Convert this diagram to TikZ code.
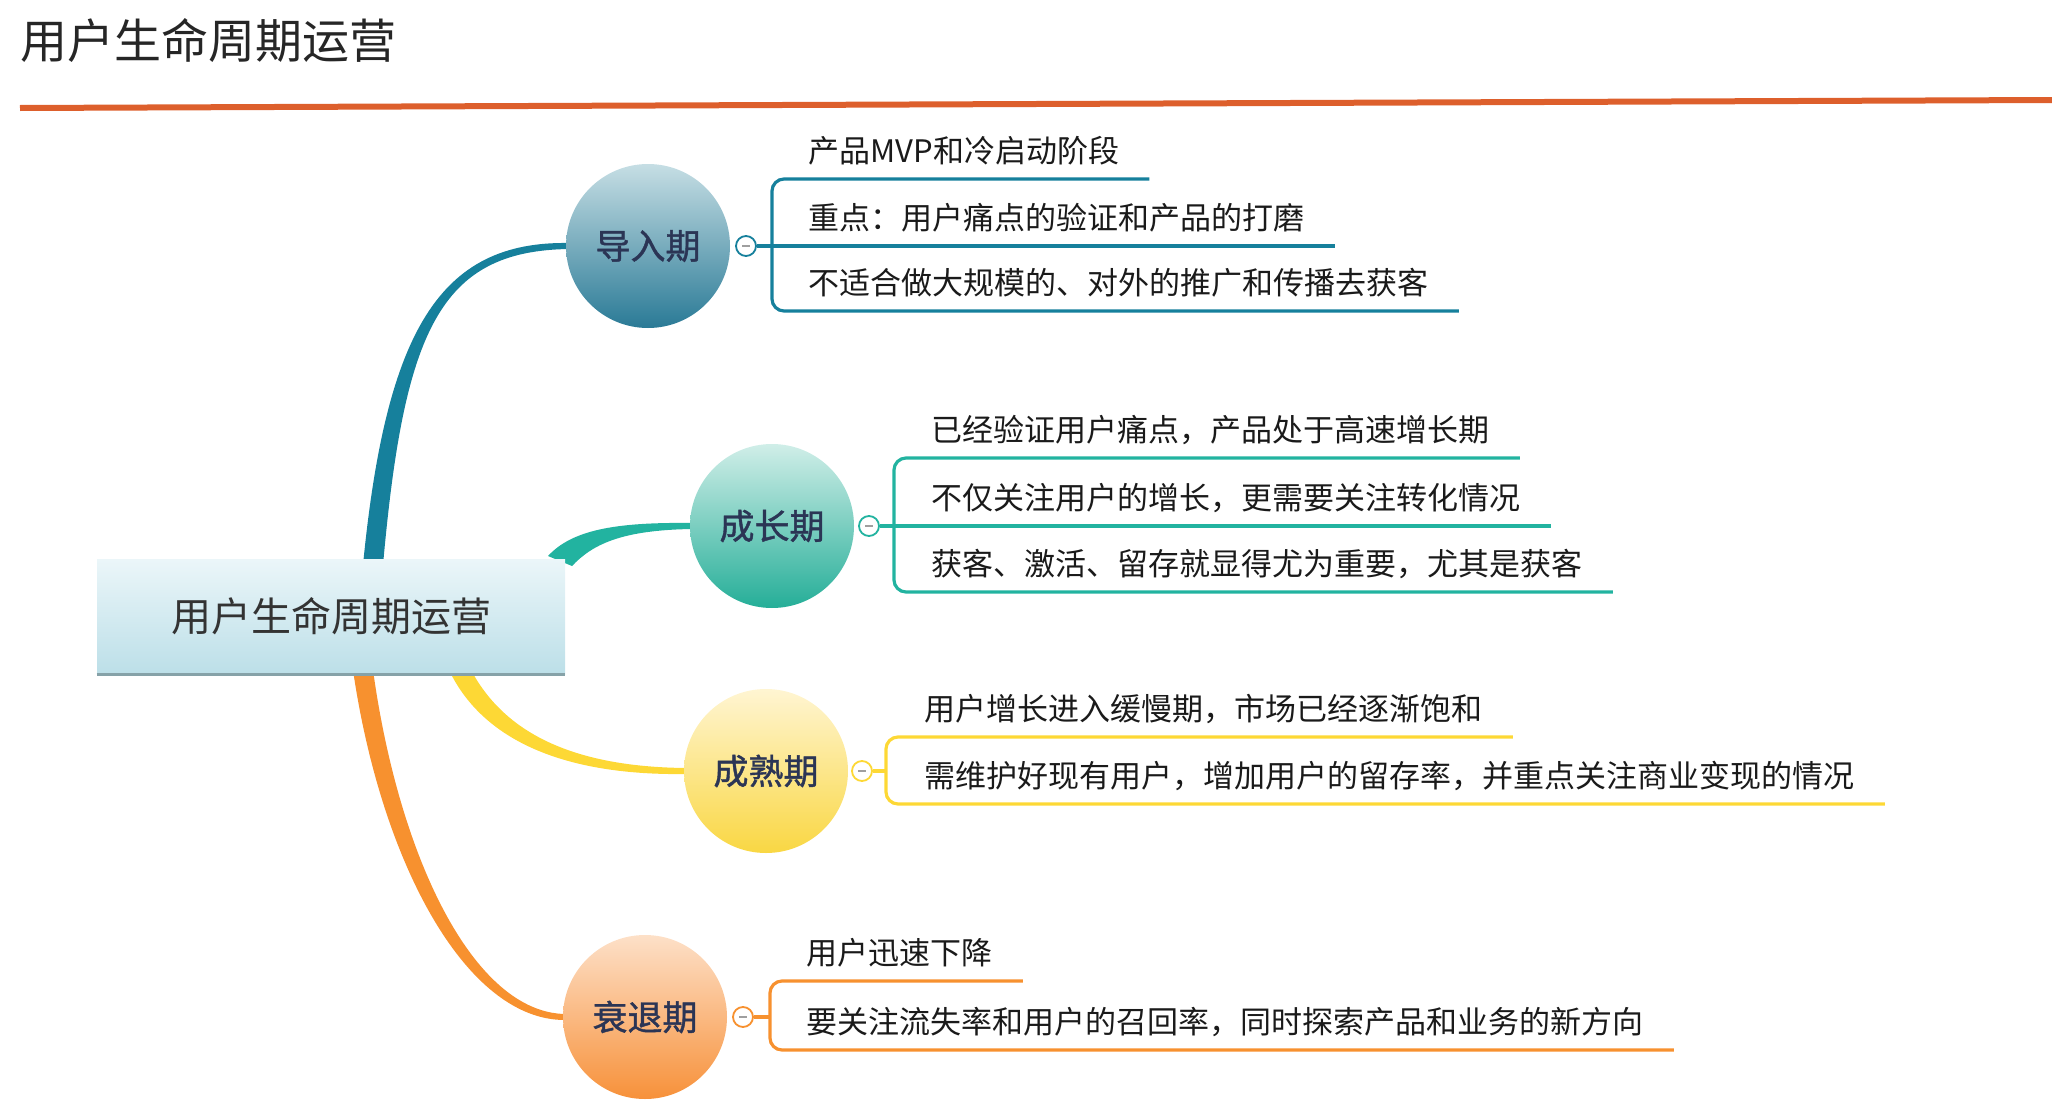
\documentclass[tikz,border=0pt]{standalone}
\usepackage{fontspec}
\setmainfont{Noto Sans CJK SC}
\newfontfamily\stagefont[FakeBold=1.2]{Noto Sans CJK SC}
\usetikzlibrary{calc}
\definecolor{titleline}{HTML}{DD5F2C}
\definecolor{txt}{HTML}{1A1A1A}
\definecolor{navy}{HTML}{2B3555}
\definecolor{c1line}{HTML}{16809C}
\definecolor{c1top}{HTML}{C6DEE4}
\definecolor{c1bot}{HTML}{2A7A96}
\definecolor{c2line}{HTML}{22B3A0}
\definecolor{c2top}{HTML}{D0EEE8}
\definecolor{c2bot}{HTML}{25AE98}
\definecolor{c3line}{HTML}{FDD835}
\definecolor{c3top}{HTML}{FFF5D2}
\definecolor{c3bot}{HTML}{F9D743}
\definecolor{c4line}{HTML}{F7912F}
\definecolor{c4top}{HTML}{FDE0C8}
\definecolor{c4bot}{HTML}{F7913A}
\definecolor{roottop}{HTML}{EBF6F9}
\definecolor{rootbot}{HTML}{BCDFE8}
\definecolor{rootedge}{HTML}{86A2A8}
\tikzset{
  stage/.style={circle, minimum size=82pt, inner sep=0pt, font=\fontsize{17.5}{20}\selectfont\stagefont, text=navy},
  item/.style={anchor=west, inner sep=0pt, font=\fontsize{15.5}{18}\selectfont, text=txt},
  marker/.style={circle, fill=white, draw=#1, line width=0.9pt, minimum size=10pt, inner sep=0pt,
    path picture={\draw[gray!75, line width=0.8pt] ([xshift=-2pt]path picture bounding box.center) -- ([xshift=2pt]path picture bounding box.center);}},
  brk/.style={draw=#1, line width=1.6pt, rounded corners=6pt},
}
\begin{document}
\begin{tikzpicture}[x=0.5pt,y=-0.5pt]
\useasboundingbox (0,0) rectangle (2052,1108);
% title
\node[anchor=west, inner sep=0pt, font=\fontsize{23.5}{28}\selectfont, text=black!85] (title) at (20,40) {用户生命周期运营};
\coordinate (tlL) at (20,108);
\coordinate (tlR) at (2052,100);
\draw[titleline, line width=3pt] (tlL) -- (tlR);

% stage circles (positions)
\coordinate (p1) at (648,246);
\coordinate (p2) at (772,526);
\coordinate (p3) at (766,771);
\coordinate (p4) at (645,1017);
\node[stage] (s1) at (p1) {};
\node[stage] (s2) at (p2) {};
\node[stage] (s3) at (p3) {};
\node[stage] (s4) at (p4) {};

% branch bases on the root box
\coordinate (b1) at (373,559);
\coordinate (b2) at (560,560);
\coordinate (b3) at (460,674);
\coordinate (b4) at (363,674);

% tapered branches
\fill[c1line] ($(b1)+(-10,6)$) .. controls (386,330) and (440,241) .. ($(s1.west)+(3,-3)$) -- ($(s1.west)+(3,3)$) .. controls (440,251) and (404,330) .. ($(b1)+(10,6)$) -- cycle;
\fill[c2line] ($(b2)+(-12,-4)$) .. controls (572,530) and (615,522) .. ($(s2.west)+(3,-3)$) -- ($(s2.west)+(3,3)$) .. controls (620,530) and (592,545) .. ($(b2)+(12,6)$) -- cycle;
\fill[c3line] ($(b3)+(-11,-4)$) .. controls (480,735) and (555,776) .. ($(s3.west)+(3,3)$) -- ($(s3.west)+(3,-3)$) .. controls (565,767) and (502,728) .. ($(b3)+(11,-4)$) -- cycle;
\fill[c4line] ($(b4)+(-10,-4)$) .. controls (381,862) and (466,1021) .. ($(s4.west)+(3,3)$) -- ($(s4.west)+(3,-3)$) .. controls (474,1013) and (399,858) .. ($(b4)+(10,-4)$) -- cycle;

% root box
\node[rectangle, minimum width=234pt, minimum height=57.5pt, inner sep=0pt, top color=roottop, bottom color=rootbot,
  font=\fontsize{20}{24}\selectfont, text=black!80] (root) at (331,616.5) {用户生命周期运营};
\draw[rootedge, line width=1.3pt] (root.south west) -- (root.south east);

% stage circles drawn
\node[stage, top color=c1top, bottom color=c1bot] at (s1) {导入期};
\node[stage, top color=c2top, bottom color=c2bot] at (s2) {成长期};
\node[stage, top color=c3top, bottom color=c3bot] at (s3) {成熟期};
\node[stage, top color=c4top, bottom color=c4bot] at (s4) {衰退期};

% ---------- stage 1 ----------
\coordinate (a11) at (772,179);
\coordinate (a12) at (772,246);
\coordinate (a13) at (772,311);
\node[item] (t11) at ($(a11)+(36,-28)$) {产品MVP和冷启动阶段};
\node[item] (t12) at ($(a12)+(36,-28)$) {重点：用户痛点的验证和产品的打磨};
\node[item] (t13) at ($(a13)+(36,-28)$) {不适合做大规模的、对外的推广和传播去获客};
\draw[brk=c1line] ($(t11.east)+(30,28)$) -- (a11) -- (a13) -- ($(t13.east)+(30,28)$);
\node[marker=c1line] (m1) at (746,246) {};
\draw[brk=c1line] (m1.east) -- ($(t12.east)+(30,28)$);

% ---------- stage 2 ----------
\coordinate (a21) at (894,458);
\coordinate (a22) at (894,526);
\coordinate (a23) at (894,592);
\node[item] (t21) at ($(a21)+(37,-28)$) {已经验证用户痛点，产品处于高速增长期};
\node[item] (t22) at ($(a22)+(37,-28)$) {不仅关注用户的增长，更需要关注转化情况};
\node[item] (t23) at ($(a23)+(37,-28)$) {获客、激活、留存就显得尤为重要，尤其是获客};
\draw[brk=c2line] ($(t21.east)+(30,28)$) -- (a21) -- (a23) -- ($(t23.east)+(30,28)$);
\node[marker=c2line] (m2) at (869,526) {};
\draw[brk=c2line] (m2.east) -- ($(t22.east)+(30,28)$);

% ---------- stage 3 ----------
\coordinate (a31) at (886,737);
\coordinate (a32) at (886,804);
\node[item] (t31) at ($(a31)+(38,-28)$) {用户增长进入缓慢期，市场已经逐渐饱和};
\node[item] (t32) at ($(a32)+(38,-28)$) {需维护好现有用户，增加用户的留存率，并重点关注商业变现的情况};
\draw[brk=c3line] ($(t31.east)+(30,28)$) -- (a31) -- (a32) -- ($(t32.east)+(30,28)$);
\node[marker=c3line] (m3) at (862,771) {};
\draw[brk=c3line] (m3.east) -- (m3.east -| a31);

% ---------- stage 4 ----------
\coordinate (a41) at (770,981);
\coordinate (a42) at (770,1050);
\node[item] (t41) at ($(a41)+(36,-28)$) {用户迅速下降};
\node[item] (t42) at ($(a42)+(36,-28)$) {要关注流失率和用户的召回率，同时探索产品和业务的新方向};
\draw[brk=c4line] ($(t41.east)+(30,28)$) -- (a41) -- (a42) -- ($(t42.east)+(30,28)$);
\node[marker=c4line] (m4) at (743,1017) {};
\draw[brk=c4line] (m4.east) -- (m4.east -| a41);
\end{tikzpicture}
\end{document}
